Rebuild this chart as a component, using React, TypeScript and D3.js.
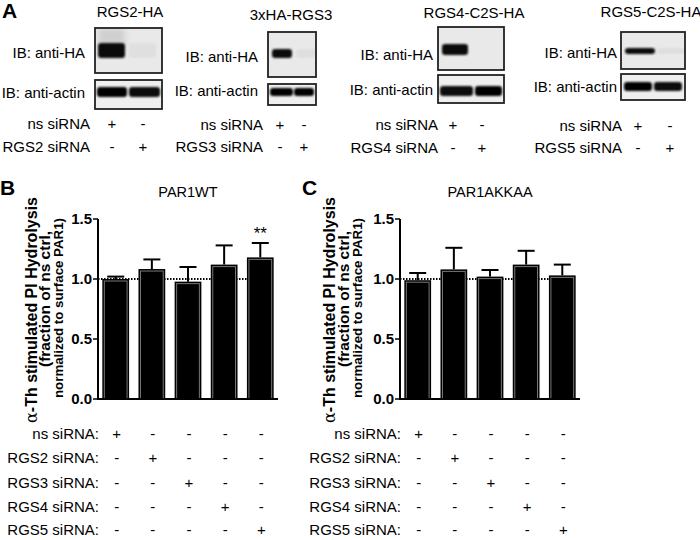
import React from 'react';
import * as d3 from 'd3';

// ---------- DATA ----------
const conditions = ['ns', 'RGS2', 'RGS3', 'RGS4', 'RGS5'];
const wtMeans = [1.0, 1.083, 0.978, 1.12, 1.18];
const wtErr = [0.02, 0.08, 0.122, 0.16, 0.12];
const akkaaMeans = [0.99, 1.08, 1.02, 1.12, 1.03];
const akkaaErr = [0.06, 0.18, 0.055, 0.115, 0.09];
const yTicks = [0, 0.5, 1.0, 1.5];
const sirnaRowLabels = ['ns siRNA:', 'RGS2 siRNA:', 'RGS3 siRNA:', 'RGS4 siRNA:', 'RGS5 siRNA:'];
const wtSig = ['', '', '', '', '**'];
const akkaaSig = ['', '', '', '', ''];

const blotTitles = ['RGS2-HA', '3xHA-RGS3', 'RGS4-C2S-HA', 'RGS5-C2S-HA'];
const blotKnockdown = ['RGS2 siRNA', 'RGS3 siRNA', 'RGS4 siRNA', 'RGS5 siRNA'];
// HA band intensity per lane (ns, knockdown)
const haIntensity = [[1, 0.035], [1, 0.04], [1, 0.0], [1, 0.04]];
const actinIntensity = [[1, 0.95], [1, 1], [0.95, 1], [1, 0.95]];

// ---------- LAYOUT ----------
const FONT = "'Liberation Sans', Arial, Helvetica, sans-serif";

const blotLayout = [
  { x0: 95, x1: 162, ha: [28, 73], ac: [80, 109], labR: 85, haY: 53, acY: 93, nsY: 124, kdY: 147, lanes: [112, 143], tX: 130, tY: 17,
    haBand: [98, 125, 43, 58], acBands: [[97, 127], [129, 160]], acY2: [87, 97] },
  { x0: 268, x1: 316, ha: [32, 77], ac: [84, 105], labR: 258, haY: 57, acY: 91, nsY: 125, kdY: 147, lanes: [280, 304], tX: 291, tY: 20,
    haBand: [272, 292, 49, 58], acBands: [[270, 293], [294, 314]], acY2: [88, 96] },
  { x0: 438, x1: 504, ha: [27, 70], ac: [75, 103], labR: 433, haY: 55, acY: 90, nsY: 125, kdY: 148, lanes: [453, 482], tX: 474, tY: 18,
    haBand: [442, 468, 44, 55], acBands: [[440, 473], [475, 502]], acY2: [86, 96] },
  { x0: 621, x1: 685, ha: [32, 69], ac: [74, 100], labR: 617, haY: 53, acY: 87, nsY: 126, kdY: 148, lanes: [638, 670], tX: 651, tY: 17,
    haBand: [625, 655, 48, 54], acBands: [[624, 652], [654, 682]], acY2: [82, 91] },
];

const y = d3.scaleLinear().domain([0, 1.5]).range([399, 219]);
const rowYs = [434, 458, 483, 507, 530];

type PanelProps = {
  axisX: number; title: string; means: number[]; errs: number[]; sig: string[];
  labX: number[]; letter: string; letterX: number;
};

function BarPanel({ axisX, title, means, errs, sig, labX, letter, letterX }: PanelProps) {
  const x = d3.scaleBand<string>().domain(conditions).range([axisX, axisX + 180]).paddingInner(0.26).paddingOuter(0.12);
  const bw = x.bandwidth();
  const centre = (c: string) => (x(c) as number) + bw / 2;
  const lastC = centre(conditions[conditions.length - 1]);
  return (
    <g fontFamily={FONT}>
      <text x={letterX} y={195} fontSize={21} fontWeight="bold">{letter}</text>
      <text x={axisX + 90} y={197} fontSize={14.5} textAnchor="middle">{title}</text>
      {/* y label */}
      <text transform={`translate(${labX[0]},310) rotate(-90)`} fontSize={16} fontWeight="bold" textAnchor="middle">
        <tspan fontFamily="'DejaVu Serif', serif" fontWeight="normal">α</tspan>-Th stimulated PI Hydrolysis
      </text>
      <text transform={`translate(${labX[1]},299) rotate(-90)`} fontSize={15.5} fontWeight="bold" textAnchor="middle">(fraction of ns ctrl,</text>
      <text transform={`translate(${labX[2]},308) rotate(-90)`} fontSize={13.3} fontWeight="bold" textAnchor="middle">normalized to surface PAR1)</text>
      {/* dotted reference line */}
      <line x1={axisX} x2={lastC} y1={y(1)} y2={y(1)} stroke="#000" strokeWidth={2} strokeDasharray="1.5,1.5" />
      {/* bars */}
      {conditions.map((c, i) => {
        const bx = x(c) as number;
        const top = y(means[i]);
        const errTop = y(means[i] + errs[i]);
        const cx = centre(c);
        return (
          <g key={c}>
            <line x1={cx} x2={cx} y1={top} y2={errTop} stroke="#000" strokeWidth={2} />
            <line x1={cx - 8.5} x2={cx + 8.5} y1={errTop} y2={errTop} stroke="#000" strokeWidth={2} />
            <rect x={bx} y={top} width={bw} height={y(0) - top} fill="#000" />
            <rect x={bx + 2} y={top + 2} width={bw - 4} height={y(0) - top - 2} fill="none" stroke="#777" strokeWidth={1} />
            {sig[i] && <text x={cx} y={errTop - 4} fontSize={17} textAnchor="middle">{sig[i]}</text>}
          </g>
        );
      })}
      {/* axes */}
      <line x1={axisX} x2={axisX} y1={y(1.5)} y2={y(0) + 1} stroke="#000" strokeWidth={2} />
      <line x1={axisX - 1} x2={axisX + 180} y1={y(0)} y2={y(0)} stroke="#000" strokeWidth={2} />
      {yTicks.map(t => (
        <g key={t}>
          <line x1={axisX - 5} x2={axisX} y1={y(t)} y2={y(t)} stroke="#000" strokeWidth={1.5} />
          <text x={axisX - 6} y={y(t)} dy="0.36em" fontSize={15} fontWeight="bold" textAnchor="end">{t.toFixed(1)}</text>
        </g>
      ))}
      {/* siRNA table */}
      {sirnaRowLabels.map((lab, r) => (
        <g key={lab}>
          <text x={axisX + 1} y={rowYs[r]} dy="0.36em" fontSize={15} textAnchor="end">{lab}</text>
          {conditions.map((c, i) => (
            <text key={c} x={centre(c) + 1} y={rowYs[r]} dy="0.36em" fontSize={15} textAnchor="middle">{i === r ? '+' : '-'}</text>
          ))}
        </g>
      ))}
    </g>
  );
}

function Blot({ i }: { i: number }) {
  const L = blotLayout[i];
  const [hx0, hx1, hy0, hy1] = L.haBand;
  const laneW = hx1 - hx0;
  const gap = L.lanes[1] - L.lanes[0];
  return (
    <g fontFamily={FONT}>
      <text x={L.tX} y={L.tY} fontSize={15} textAnchor="middle">{blotTitles[i]}</text>
      <clipPath id={`ha${i}`}><rect x={L.x0} y={L.ha[0]} width={L.x1 - L.x0} height={L.ha[1] - L.ha[0]} /></clipPath>
      <clipPath id={`ac${i}`}><rect x={L.x0} y={L.ac[0]} width={L.x1 - L.x0} height={L.ac[1] - L.ac[0]} /></clipPath>
      <rect x={L.x0} y={L.ha[0]} width={L.x1 - L.x0} height={L.ha[1] - L.ha[0]} fill="#e9e9e9" />
      <rect x={L.x0} y={L.ac[0]} width={L.x1 - L.x0} height={L.ac[1] - L.ac[0]} fill="#efefef" />
      <g clipPath={`url(#ha${i})`}>
        {i === 0 && <rect x={hx0} y={L.ha[0]} width={laneW} height={hy0 - L.ha[0] + 2} fill="#cfcfcf" filter="url(#blur2)" />}
        {haIntensity[i].map((v, k) => v > 0 && (
          <rect key={k} x={hx0 + k * gap} y={hy0} width={laneW} height={hy1 - hy0} rx={3}
            fill="#000" opacity={v === 1 ? 0.95 : v} filter="url(#blur1)" />
        ))}
      </g>
      <g clipPath={`url(#ac${i})`}>
        {L.acBands.map((b, k) => (
          <rect key={k} x={b[0]} y={L.acY2[0]} width={b[1] - b[0]} height={L.acY2[1] - L.acY2[0]} rx={3}
            fill="#000" opacity={actinIntensity[i][k]} filter="url(#blur1)" />
        ))}
      </g>
      <rect x={L.x0} y={L.ha[0]} width={L.x1 - L.x0} height={L.ha[1] - L.ha[0]} fill="none" stroke="#222" strokeWidth={1.8} />
      <rect x={L.x0} y={L.ac[0]} width={L.x1 - L.x0} height={L.ac[1] - L.ac[0]} fill="none" stroke="#222" strokeWidth={1.8} />
      <text x={L.labR} y={L.haY} dy="0.36em" fontSize={15} textAnchor="end">IB: anti-HA</text>
      <text x={L.labR} y={L.acY} dy="0.36em" fontSize={15} textAnchor="end">IB: anti-actin</text>
      <text x={L.labR + 5} y={L.nsY} dy="0.36em" fontSize={15} textAnchor="end">ns siRNA</text>
      <text x={L.labR + 5} y={L.kdY} dy="0.36em" fontSize={15} textAnchor="end">{blotKnockdown[i]}</text>
      {L.lanes.map((lx, k) => (
        <g key={k}>
          <text x={lx} y={L.nsY} dy="0.36em" fontSize={15} textAnchor="middle">{k === 0 ? '+' : '-'}</text>
          <text x={lx} y={L.kdY} dy="0.36em" fontSize={15} textAnchor="middle">{k === 1 ? '+' : '-'}</text>
        </g>
      ))}
    </g>
  );
}

export default function App() {
  return (
    <svg width={700} height={540} viewBox="0 0 700 540" style={{ position: 'absolute', left: 0, top: 0, background: '#fff' }}>
      <defs>
        <filter id="blur1" x="-30%" y="-60%" width="160%" height="220%"><feGaussianBlur stdDeviation="1.3" /></filter>
        <filter id="blur2" x="-30%" y="-60%" width="160%" height="220%"><feGaussianBlur stdDeviation="3" /></filter>
      </defs>
      <rect width={700} height={540} fill="#fff" />
      <text x={2} y={18} fontFamily={FONT} fontSize={21} fontWeight="bold">A</text>
      {blotTitles.map((_, i) => <Blot key={i} i={i} />)}
      <BarPanel axisX={98} title="PAR1WT" means={wtMeans} errs={wtErr} sig={wtSig} labX={[37, 50, 63]} letter="B" letterX={0} />
      <BarPanel axisX={400} title="PAR1AKKAA" means={akkaaMeans} errs={akkaaErr} sig={akkaaSig} labX={[335, 349, 362]} letter="C" letterX={302} />
    </svg>
  );
}
